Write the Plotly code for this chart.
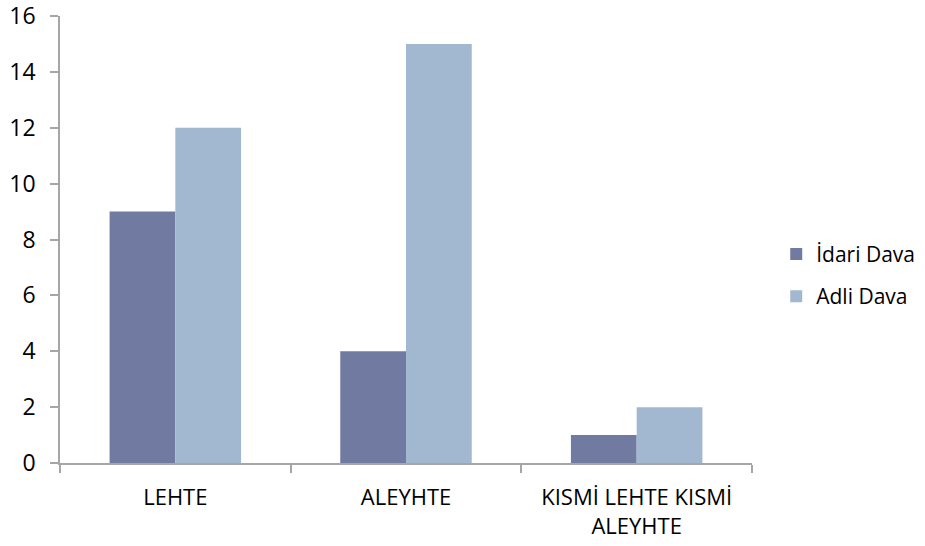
import plotly.graph_objects as go

categories = ["LEHTE", "ALEYHTE", "KISMİ LEHTE KISMİ<br>ALEYHTE"]
idari_dava = [9, 4, 1]
adli_dava = [12, 15, 2]
y_ticks = [0, 2, 4, 6, 8, 10, 12, 14, 16]

font_family = "Open Sans, Liberation Sans, sans-serif"
axis_grey = "#A6A6A6"

fig = go.Figure()
fig.add_trace(go.Bar(name="İdari Dava", x=categories, y=idari_dava, legendgroup="a",
                     marker=dict(color="#717BA1", line=dict(width=0))))
fig.add_trace(go.Bar(name="Adli Dava", x=categories, y=adli_dava, legendgroup="b",
                     marker=dict(color="#A2B8D0", line=dict(width=0))))

fig.update_layout(
    width=925, height=546,
    margin=dict(l=60, r=173, t=16, b=83, autoexpand=False),
    paper_bgcolor="white", plot_bgcolor="white",
    barmode="group", bargap=0.43, bargroupgap=0,
    font=dict(family=font_family, size=22, color="black"),
    legend=dict(x=1.035, y=0.42, xanchor="left", yanchor="middle",
                font=dict(size=21), tracegroupgap=12, traceorder="grouped",
                itemwidth=30),
    showlegend=True,
)
fig.update_xaxes(
    showline=True, linecolor=axis_grey, linewidth=1.5, automargin=False,
    ticks="outside", tickson="boundaries", ticklen=8, tickcolor=axis_grey,
    tickwidth=1.5, showgrid=False, tickfont=dict(size=22), ticklabelstandoff=14,
)
fig.update_yaxes(
    range=[0, 16], tickvals=y_ticks, showline=True, linecolor=axis_grey,
    linewidth=1.5, ticks="outside", ticklen=8, tickcolor=axis_grey, tickwidth=1.5,
    showgrid=False, zeroline=False, tickfont=dict(size=23), ticklabelstandoff=10,
    automargin=False, ticklabeloverflow="allow",
)

fig.write_html("out.html")
